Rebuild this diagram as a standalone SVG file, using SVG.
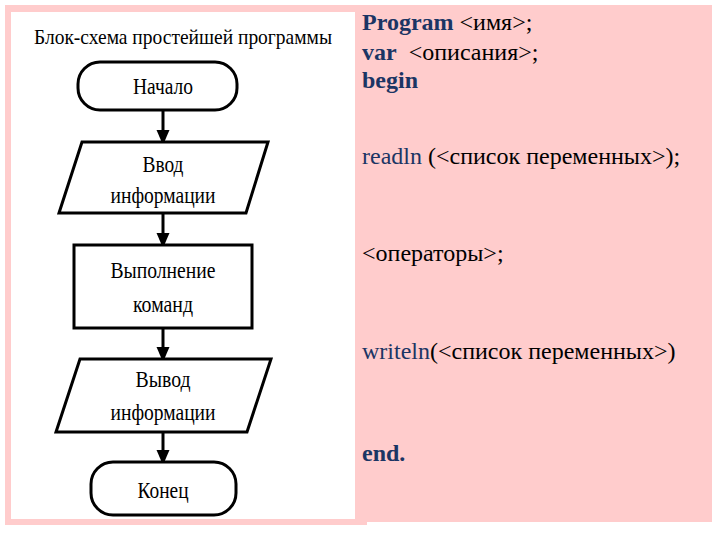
<svg xmlns="http://www.w3.org/2000/svg" width="720" height="540" viewBox="0 0 720 540">
<style>
.shape{fill:#fff;stroke:#000;stroke-width:3}
.lbl{font-family:"Liberation Serif","Times New Roman",serif;font-size:24px;fill:#000;text-anchor:middle}
.ttl{font-size:22px}
.code{font-family:"Liberation Serif","Times New Roman",serif;font-size:24px;fill:#000}
.kw{fill:#1b3564}
.b{font-weight:bold}
.conn{stroke:#000;stroke-width:3;fill:none}
</style>
<defs>
<marker id="ah" viewBox="0 0 12 15" refX="12" refY="6.5" markerWidth="12" markerHeight="15" markerUnits="userSpaceOnUse" orient="auto">
<path d="M0,0 L15,6.5 L0,13 Z" fill="#000"/>
</marker>
</defs>
<rect x="0" y="0" width="720" height="540" fill="#fff"/>
<rect x="5" y="5" width="707" height="517" fill="#ffcccc"/>
<rect x="5" y="520" width="362" height="5" fill="#ffcccc"/>
<rect x="11" y="12" width="344" height="507" fill="#fff"/>

<text class="lbl ttl" x="183" y="44" textLength="298" lengthAdjust="spacingAndGlyphs">Блок-схема простейшей программы</text>

<g id="connectors">
<line class="conn" x1="163" y1="110" x2="163" y2="142" marker-end="url(#ah)"/>
<line class="conn" x1="163" y1="213" x2="163" y2="245" marker-end="url(#ah)"/>
<line class="conn" x1="163" y1="328" x2="163" y2="359" marker-end="url(#ah)"/>
<line class="conn" x1="163" y1="432" x2="163" y2="462" marker-end="url(#ah)"/>
</g>

<g id="start">
<rect class="shape" x="78" y="62" width="159" height="48" rx="22" ry="22"/>
<text class="lbl" x="163" y="94" textLength="60" lengthAdjust="spacingAndGlyphs">Начало</text>
</g>
<g id="input">
<polygon class="shape" points="82,142 268,142 246,213 59,213"/>
<text class="lbl" x="163" y="172" textLength="41" lengthAdjust="spacingAndGlyphs">Ввод</text>
<text class="lbl" x="163" y="203" textLength="105" lengthAdjust="spacingAndGlyphs">информации</text>
</g>
<g id="process">
<rect class="shape" x="74" y="245" width="178" height="83"/>
<text class="lbl" x="163" y="278" textLength="105" lengthAdjust="spacingAndGlyphs">Выполнение</text>
<text class="lbl" x="163" y="312" textLength="60" lengthAdjust="spacingAndGlyphs">команд</text>
</g>
<g id="output">
<polygon class="shape" points="80,359 271,359 247,432 56,432"/>
<text class="lbl" x="163" y="387" textLength="55" lengthAdjust="spacingAndGlyphs">Вывод</text>
<text class="lbl" x="163" y="420" textLength="105" lengthAdjust="spacingAndGlyphs">информации</text>
</g>
<g id="end">
<rect class="shape" x="91" y="462" width="145" height="53" rx="22" ry="22"/>
<text class="lbl" x="163" y="498" textLength="51" lengthAdjust="spacingAndGlyphs">Конец</text>
</g>

<g id="code">
<text class="code" x="362" y="30"><tspan class="kw b">Program</tspan> &lt;имя&gt;;</text>
<text class="code" x="362" y="60"><tspan class="kw b">var</tspan>&#160; &lt;описания&gt;;</text>
<text class="code" x="362" y="88"><tspan class="kw b">begin</tspan></text>
<text class="code" x="362" y="164"><tspan class="kw">readln</tspan> (&lt;список переменных&gt;);</text>
<text class="code" x="362" y="261">&lt;операторы&gt;;</text>
<text class="code" x="362" y="359"><tspan class="kw">writeln</tspan>(&lt;список переменных&gt;)</text>
<text class="code" x="362" y="461"><tspan class="kw b">end.</tspan></text>
</g>
</svg>
